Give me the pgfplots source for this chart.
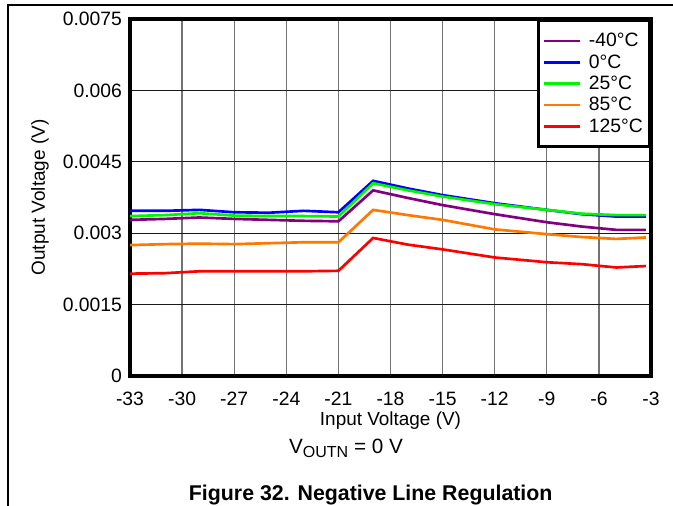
\documentclass[border=0pt]{standalone}
\usepackage{pgfplots}
\pgfplotsset{compat=1.18}
\usepackage{fontspec}
\setmainfont{Liberation Sans}

\definecolor{cpurple}{RGB}{128,0,128}
\definecolor{cblue}{RGB}{0,0,255}
\definecolor{cgreen}{RGB}{0,245,0}
\definecolor{corange}{RGB}{255,120,0}
\definecolor{cred}{RGB}{255,0,0}

\begin{document}
\begin{tikzpicture}
\begin{axis}[
    width=390.75pt, height=267.75pt,
    scale only axis,
    clip=false,
    xmin=-33, xmax=-3,
    ymin=0, ymax=0.0075,
    scaled y ticks=false,
    xtick={-33,-30,-27,-24,-21,-18,-15,-12,-9,-6,-3},
    xticklabels={-33,-30,-27,-24,-21,-18,-15,-12,-9,-6,-3},
    ytick={0,0.0015,0.003,0.0045,0.006,0.0075},
    yticklabels={0,0.0015,0.003,0.0045,0.006,0.0075},
    major tick length=0pt,
    grid=major,
    x grid style={black!55, line width=1pt},
    y grid style={black!90, line width=0.7pt},
    axis line style={line width=2.3pt},
    tick label style={font=\fontsize{14.5}{16}\selectfont},
    xticklabel style={yshift=-8.5pt},
    yticklabel style={xshift=-2.5pt},
    label style={font=\fontsize{14.2}{16}\selectfont},
    xlabel={Input Voltage (V)},
    ylabel={Output Voltage (V)},
    xlabel style={at={(axis description cs:0.5,-0.140)}, anchor=base},
    ylabel style={at={(axis description cs:-0.1727,0.5)}, anchor=center},
    legend style={at={(1,1)}, anchor=north east, draw=black, line width=2.3pt,
        font=\fontsize{14.5}{15}\selectfont, row sep=0.4pt,
        inner xsep=3pt, inner ysep=7.5pt, cells={anchor=west}},
    legend image code/.code={\draw[#1, line width=2pt] (0pt,0pt) -- (27pt,0pt);},
    every axis plot/.append style={line width=2pt},
]
\addplot[cpurple] coordinates {
(-33,0.00328)(-31,0.00330)(-29,0.00333)(-27,0.00330)(-25,0.00328)(-23,0.00326)(-21,0.00325)
(-19,0.00390)(-17,0.00374)(-15,0.00359)(-12,0.00340)(-9,0.00323)(-7,0.00314)(-5,0.00307)(-3.3,0.00307)};
\addplot[cblue] coordinates {
(-33,0.00347)(-31,0.00347)(-29,0.00349)(-27,0.00344)(-25,0.00343)(-23,0.00347)(-21,0.00344)
(-19,0.00410)(-17,0.00394)(-15,0.00380)(-12,0.00363)(-9,0.00349)(-7,0.00340)(-5,0.00335)(-3.3,0.00335)};
\addplot[cgreen] coordinates {
(-33,0.00336)(-31,0.00338)(-29,0.00342)(-27,0.00337)(-25,0.00336)(-23,0.00336)(-21,0.00335)
(-19,0.00405)(-17,0.00390)(-15,0.00377)(-12,0.00361)(-9,0.00349)(-7,0.00341)(-5,0.00338)(-3.3,0.00338)};
\addplot[corange] coordinates {
(-33,0.00275)(-31,0.00277)(-29,0.00278)(-27,0.00277)(-25,0.00279)(-23,0.00281)(-21,0.00281)
(-19,0.00349)(-17,0.00338)(-15,0.00328)(-12,0.00308)(-9,0.00298)(-7,0.00292)(-5,0.00288)(-3.3,0.00291)};
\addplot[cred] coordinates {
(-33,0.00215)(-31,0.00216)(-29,0.00220)(-27,0.00220)(-25,0.00220)(-23,0.00220)(-21,0.00221)
(-19,0.00290)(-17,0.00276)(-15,0.00266)(-12,0.00249)(-9,0.00239)(-7,0.00235)(-5,0.00228)(-3.3,0.00231)};
\legend{\hspace{3.5pt}-40°C, \hspace{3.5pt}0°C, \hspace{3.5pt}25°C, \hspace{3.5pt}85°C, \hspace{3.5pt}125°C}

\node[anchor=base, font=\fontsize{15.5}{17}\selectfont] at (rel axis cs:0.4146,-0.218)
    {V\raisebox{-3pt}{\fontsize{12}{13}\selectfont OUTN} = 0 V};
\node[anchor=base, font=\fontsize{16}{18}\selectfont\bfseries] at (rel axis cs:0.462,-0.349)
    {Figure 32. Negative Line Regulation};

\draw[black, line width=1.1pt] (rel axis cs:1.0422,1.0392) -- (rel axis cs:-0.2342,1.0392)
    -- (rel axis cs:-0.2342,-0.3641);
\coordinate (bbsw) at (rel axis cs:-0.2495,-0.3641);
\coordinate (bbne) at (rel axis cs:1.0422,1.0532);
\end{axis}
\pgfresetboundingbox
\path (bbsw) rectangle (bbne);
\end{tikzpicture}
\end{document}
